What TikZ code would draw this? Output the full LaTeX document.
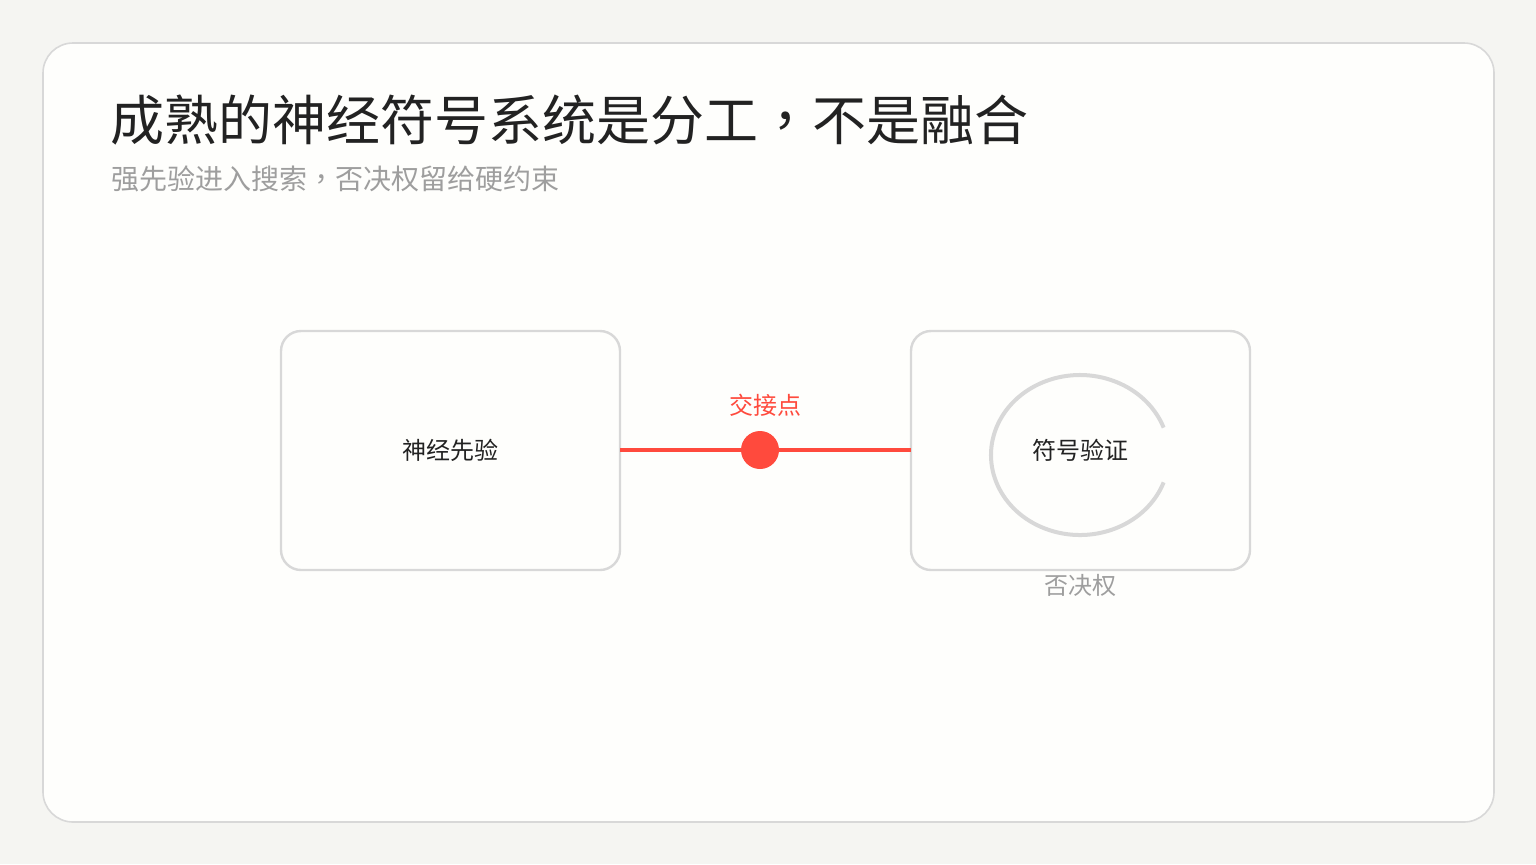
\documentclass[tikz,border=0pt]{standalone}
\usepackage{fontspec}
\setmainfont{Noto Sans CJK SC}
\newfontfamily\tcfont{Noto Sans CJK TC}
\definecolor{bgc}{HTML}{F5F5F2}
\definecolor{cardc}{HTML}{FEFEFC}
\definecolor{linec}{HTML}{D8D8D8}
\definecolor{redc}{HTML}{FF4A3D}
\definecolor{titlec}{HTML}{222222}
\definecolor{grayc}{HTML}{9E9E9E}
\tikzset{
  panel/.style={draw=linec, line width=1.2pt, fill=cardc, rounded corners=10pt},
  lbl/.style={inner sep=0pt, font=\fontsize{12pt}{14pt}\selectfont, text=titlec},
}
\begin{document}
\begin{tikzpicture}[x=0.5pt,y=-0.5pt]
\fill[bgc] (0,0) rectangle (1536,864);
\useasboundingbox (0,0) rectangle (1536,864);
\draw[draw=linec, line width=0.8pt, fill=cardc, rounded corners=15pt] (43,43) rectangle (1494,822);
\node[inner sep=0pt, anchor=west, font=\fontsize{27pt}{30pt}\selectfont, text=titlec] (title) at (110,120) {成熟的神经符号系统是分工{\tcfont ，}不是融合};
\node[inner sep=0pt, anchor=west, font=\fontsize{14pt}{16pt}\selectfont, text=grayc] (sub) at (111,179) {强先验进入搜索{\tcfont ，}否决权留给硬约束};
\draw[panel] (281,331) rectangle (620,570);
\draw[panel] (911,331) rectangle (1250,570);
\coordinate (L) at (620,450);
\coordinate (R) at (911,450);
\node[lbl] (neural) at (450,450) {神经先验};
\draw[redc, line width=2pt] (L) -- (R);
\node[circle, fill=redc, minimum size=19pt, inner sep=0pt] (dot) at (760,450) {};
\node[inner sep=0pt, font=\fontsize{12pt}{14pt}\selectfont, text=redc] (hand) at (765,405) {交接点};
\draw[linec, line width=2pt] (1080,455) ++(20:89 and 80) arc[start angle=20, end angle=340, x radius=89, y radius=80];
\node[lbl] (sym) at (1080,450) {符号验证};
\node[inner sep=0pt, font=\fontsize{12pt}{14pt}\selectfont, text=grayc] (veto) at (1080,585) {否决权};
\end{tikzpicture}
\end{document}
